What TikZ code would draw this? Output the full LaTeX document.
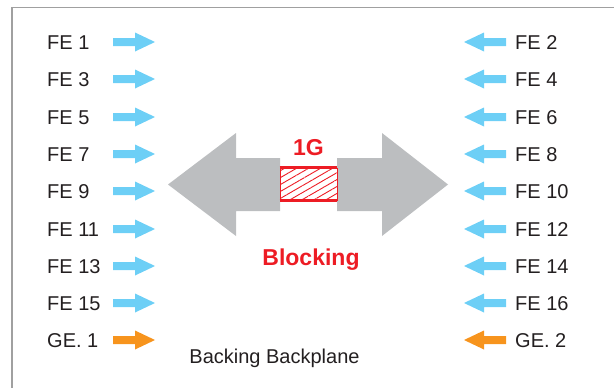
\documentclass[tikz,border=0pt]{standalone}
\usepackage{fontspec}
\setmainfont{Liberation Sans}
\usepackage{xcolor}
\usepackage{tikz}
\usetikzlibrary{patterns.meta}
\definecolor{portblue}{HTML}{6DCFF6}
\definecolor{portorange}{HTML}{F7941D}
\definecolor{bigarrow}{HTML}{BCBEC0}
\definecolor{linkred}{HTML}{ED1C24}
\definecolor{textdark}{HTML}{231F20}
\definecolor{framegray}{HTML}{A0A0A0}

\begin{document}
\begin{tikzpicture}[x=1pt, y=-1pt,
  port/.style={inner sep=0pt, anchor=base west, text=textdark,
               font=\fontsize{20}{24}\selectfont},
  redlbl/.style={inner sep=0pt, text=linkred,
                 font=\fontsize{23}{27}\selectfont\bfseries},
  linkbox/.style={rectangle, draw=linkred, line width=0.8pt,
                  minimum width=57pt, minimum height=32pt, inner sep=0pt,
                  pattern={Lines[angle=30, distance=6pt, line width=0.9pt]},
                  pattern color=linkred},
  inarrow/.pic={\fill[#1] (0,-4) -- (22,-4) -- (22,-9.5) -- (42,0)
                  -- (22,9.5) -- (22,4) -- (0,4) -- cycle;}
]
\useasboundingbox (0,0) rectangle (614,388);

% panel edge
\draw[framegray, line width=1.2pt] (12,388) -- (12,7.5) -- (614,7.5);

% odd ports, left side
\node[port] (fe1)  at (47,49)  {FE 1};
\node[port] (fe3)  at (47,86)  {FE 3};
\node[port] (fe5)  at (47,124) {FE 5};
\node[port] (fe7)  at (47,161) {FE 7};
\node[port] (fe9)  at (47,198) {FE 9};
\node[port] (fe11) at (47,236) {FE 11};
\node[port] (fe13) at (47,273) {FE 13};
\node[port] (fe15) at (47,310) {FE 15};
\node[port] (ge1)  at (47,347) {GE. 1};

\pic at (113,42)  {inarrow=portblue};
\pic at (113,79)  {inarrow=portblue};
\pic at (113,117) {inarrow=portblue};
\pic at (113,154) {inarrow=portblue};
\pic at (113,191) {inarrow=portblue};
\pic at (113,229) {inarrow=portblue};
\pic at (113,266) {inarrow=portblue};
\pic at (113,303) {inarrow=portblue};
\pic at (113,340) {inarrow=portorange};

% even ports, right side
\node[port] (fe2)  at (515,49)  {FE 2};
\node[port] (fe4)  at (515,86)  {FE 4};
\node[port] (fe6)  at (515,124) {FE 6};
\node[port] (fe8)  at (515,161) {FE 8};
\node[port] (fe10) at (515,198) {FE 10};
\node[port] (fe12) at (515,236) {FE 12};
\node[port] (fe14) at (515,273) {FE 14};
\node[port] (fe16) at (515,310) {FE 16};
\node[port] (ge2)  at (515,347) {GE. 2};

\pic[xscale=-1] at (506,42)  {inarrow=portblue};
\pic[xscale=-1] at (506,79)  {inarrow=portblue};
\pic[xscale=-1] at (506,117) {inarrow=portblue};
\pic[xscale=-1] at (506,154) {inarrow=portblue};
\pic[xscale=-1] at (506,191) {inarrow=portblue};
\pic[xscale=-1] at (506,229) {inarrow=portblue};
\pic[xscale=-1] at (506,266) {inarrow=portblue};
\pic[xscale=-1] at (506,303) {inarrow=portblue};
\pic[xscale=-1] at (506,340) {inarrow=portorange};

% blocked 1G uplink between the two big arrows
\fill[bigarrow] (168,184.5) -- (236,133) -- (236,158) -- (280,158)
  -- (280,211) -- (236,211) -- (236,236) -- cycle;
\fill[bigarrow] (448,184.5) -- (382,133) -- (382,158) -- (337,158)
  -- (337,211) -- (382,211) -- (382,236) -- cycle;

\node[linkbox] (link) at (308.5,184) {};
\draw[linkred, line width=2.6pt] (link.north west) -- (link.north east);
\draw[linkred, line width=2.6pt] (link.south west) -- (link.south east);

\node[redlbl, anchor=base] (speed) at (308.5,155) {1G};
\node[redlbl, anchor=base] (block) at (311,265) {Blocking};

\node[port, anchor=base] (plane) at (274.5,363) {Backing Backplane};

\end{tikzpicture}
\end{document}
